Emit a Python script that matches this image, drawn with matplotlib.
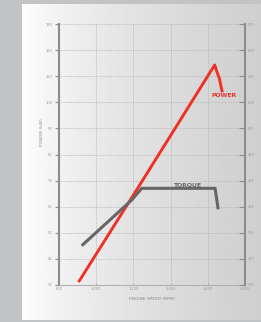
import numpy as np
import matplotlib
matplotlib.use("Agg")
import matplotlib.pyplot as plt

# ==========================================
# Chart data
# ==========================================
rpm_ticks = [800, 1000, 1200, 1400, 1600, 1800]
rpm_labels = ["800", "1,000", "1,200", "1,400", "1,600", "1,800"]
power_ticks = [30, 40, 50, 60, 70, 80, 90, 100, 110, 120, 130]
torque_ticks = [325, 350, 375, 400, 425, 450, 475, 500, 525, 550, 575]

power_rpm = [905, 1240, 1637, 1650, 1662, 1678]
power_kw = [31.1, 69.0, 114.3, 111.5, 109.2, 103.8]

torque_rpm = [922, 1191, 1245, 1639, 1656]
torque_nm = [362.6, 406.4, 417.6, 417.6, 397.5]

RED = '#ee3124'
DARK = '#666666'
TICK_GRAY = '#8c8c8c'

# ==========================================
# Figure and gradient panel
# ==========================================
fig = plt.figure(figsize=(2.61, 3.22), dpi=100)
fig.patch.set_facecolor('#c2c3c5')

panel = fig.add_axes([22 / 261, 2 / 322, 239 / 261, 316 / 322])
grad = (1.0 - 0.19 * np.linspace(0, 1, 256) ** 0.7).reshape(1, -1)
panel.imshow(grad, aspect='auto', cmap='gray', vmin=0, vmax=1,
             extent=[0, 1, 0, 1])
panel.set_axis_off()

# Main axes (power, left scale)
ax = fig.add_axes([59 / 261, 37 / 322, 186 / 261, 261 / 322])
ax.set_facecolor('none')
ax.set_xlim(800, 1800)
ax.set_ylim(30, 130)
ax.set_xticks(rpm_ticks)
ax.set_xticklabels(rpm_labels)
ax.set_yticks(power_ticks)

ax.grid(True, linestyle=(0, (1, 1)), color='#b5b5b5', linewidth=0.6)
ax.spines['top'].set_visible(False)
ax.spines['bottom'].set_color('#b0b0b0')
ax.spines['bottom'].set_linewidth(0.8)
ax.spines['left'].set_color(TICK_GRAY)
ax.spines['left'].set_linewidth(1.5)
ax.spines['right'].set_visible(False)
ax.tick_params(axis='both', labelsize=2.6, colors='#9a9a9a', length=3,
               width=0.8, pad=1.5)
ax.tick_params(axis='y', color=TICK_GRAY, direction='out', length=3)
ax.tick_params(axis='x', color='#b0b0b0', direction='in', length=1.5)

ax.plot(power_rpm, power_kw, color=RED, linewidth=2.1,
        solid_capstyle='butt', solid_joinstyle='round', zorder=3)

# Twin axes (torque, right scale)
ax2 = ax.twinx()
ax2.set_ylim(325, 575)
ax2.set_yticks(torque_ticks)
for side in ['top', 'left', 'bottom']:
    ax2.spines[side].set_visible(False)
ax2.spines['right'].set_color(TICK_GRAY)
ax2.spines['right'].set_linewidth(1.5)
ax2.tick_params(axis='y', labelsize=2.6, labelcolor='#9a9a9a',
                color=TICK_GRAY, direction='in', length=4, width=0.8, pad=2)

ax2.plot(torque_rpm, torque_nm, color=DARK, linewidth=2.2,
         solid_capstyle='butt', solid_joinstyle='miter', zorder=2)

# Series labels
ax.text(1685, 102.5, 'POWER', color=RED, fontsize=4.4, fontweight='bold',
        ha='center', va='center')
ax2.text(1494, 420.5, 'TORQUE', color=DARK, fontsize=4.4, fontweight='bold',
         ha='center', va='center')

# Axis titles
fig.text(152 / 261, 1 - 299 / 322, 'ENGINE SPEED (RPM)', fontsize=3.2,
         color='#8a8a8a', ha='center', va='center')
fig.text(42 / 261, 1 - 132 / 322, 'POWER (kW)', fontsize=3.2,
         color='#8a8a8a', ha='center', va='center', rotation=90)

fig.savefig('out.png', dpi=100, facecolor=fig.get_facecolor())
